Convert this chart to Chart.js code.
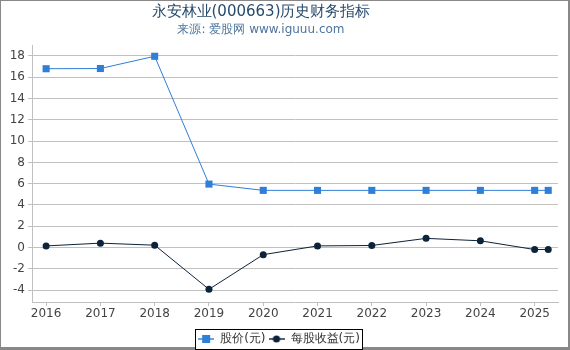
<!DOCTYPE html>
<html>
<head>
<meta charset="utf-8">
<title>永安林业(000663)历史财务指标</title>
<script src="https://cdn.jsdelivr.net/npm/chart.js"></script>
<style>
  body { margin: 0; background: #fff; }
  #wrap { position: relative; width: 570px; height: 350px; font-family: "DejaVu Sans", sans-serif; }
  .t { position: absolute; left: 0; width: 522px; text-align: center; white-space: nowrap; }
  #title { top: 2px; font-size: 15px; color: #274b6d; }
  #sub { top: 21px; font-size: 12px; color: #4d759e; }
</style>
</head>
<body>
<div id="wrap">
  <canvas id="chart" width="570" height="350"></canvas>
  <div id="title" class="t">永安林业(000663)历史财务指标</div>
  <div id="sub" class="t">来源: 爱股网 www.iguuu.com</div>
</div>
<script>
  // report dates (last one is the Q1 report)
  const years = [2016, 2017, 2018, 2019, 2020, 2021, 2022, 2023, 2024, 2025, 2025.25];
  const price = [16.8, 16.82, 17.97, 5.96, 5.37, 5.37, 5.37, 5.37, 5.37, 5.37, 5.37];
  const eps = [0.15, 0.41, 0.22, -3.93, -0.67, 0.15, 0.19, 0.86, 0.63, -0.19, -0.19];
  const yearTicks = [2016, 2017, 2018, 2019, 2020, 2021, 2022, 2023, 2024, 2025];
  const yTicks = [-4, -2, 0, 2, 4, 6, 8, 10, 12, 14, 16, 18];
  const names = ["股价(元)", "每股收益(元)"];

  const PRICE_COLOR = "#2f7ed8";
  const EPS_COLOR = "#0d233a";

  function legendIcon(color, style) {
    const c = document.createElement("canvas");
    c.width = 16; c.height = 10;
    const g = c.getContext("2d");
    g.strokeStyle = color;
    g.globalAlpha = 0.7;
    g.lineWidth = 2;
    g.beginPath(); g.moveTo(0, 5); g.lineTo(16, 5); g.stroke();
    g.globalAlpha = 1;
    g.fillStyle = color;
    if (style === "rect") g.fillRect(4, 1, 8, 8);
    else { g.beginPath(); g.arc(8, 5, 3.6, 0, Math.PI * 2); g.fill(); }
    return c;
  }
  const icons = [legendIcon(PRICE_COLOR, "rect"), legendIcon(EPS_COLOR, "circle")];

  const frameAndBox = {
    id: "frameAndBox",
    beforeDraw(chart) {
      const ctx = chart.ctx;
      ctx.save();
      ctx.fillStyle = "#fff";
      ctx.fillRect(0, 0, 570, 350);
      ctx.fillStyle = "#888";
      ctx.fillRect(0, 0, 570, 1);
      ctx.fillRect(0, 0, 1, 350);
      ctx.fillRect(568, 0, 2, 350);
      ctx.fillRect(0, 347, 570, 3);
      const b = legendBox(chart);
      ctx.fillStyle = "#fff";
      ctx.fillRect(b.x, b.y, b.w, b.h);
      ctx.restore();
    },
    afterDraw(chart) {
      const ctx = chart.ctx;
      const b = legendBox(chart);
      ctx.save();
      ctx.strokeStyle = "#000";
      ctx.lineWidth = 1;
      ctx.strokeRect(b.x + 0.5, b.y + 0.5, b.w - 1, b.h - 1);
      ctx.restore();
    }
  };
  function legendBox(chart) {
    const hb = chart.legend.legendHitBoxes;
    const left = Math.min(...hb.map(h => h.left)) - 3;
    const right = Math.max(...hb.map(h => h.left + h.width)) + 3;
    const top = Math.round(hb[0].top) - 4;
    return { x: Math.round(left), y: top, w: Math.round(right - left), h: 350 - top };
  }

  new Chart(document.getElementById("chart"), {
    type: "line",
    data: {
      datasets: [
        {
          label: names[0],
          data: years.map((x, i) => ({ x: x, y: price[i] })),
          borderColor: PRICE_COLOR,
          backgroundColor: PRICE_COLOR,
          borderWidth: 1,
          pointStyle: "rect",
          pointRadius: 5,
          pointBorderWidth: 0
        },
        {
          label: names[1],
          data: years.map((x, i) => ({ x: x, y: eps[i] })),
          borderColor: EPS_COLOR,
          backgroundColor: EPS_COLOR,
          borderWidth: 1,
          pointStyle: "circle",
          pointRadius: 3.5,
          pointBorderWidth: 0
        }
      ]
    },
    options: {
      responsive: false,
      animation: false,
      layout: { padding: { top: 45, right: 12, left: 0, bottom: 0 } },
      plugins: {
        title: { display: false },
        tooltip: { enabled: false },
        legend: {
          position: "bottom",
          maxHeight: 20,
          labels: {
            font: { family: "DejaVu Sans", size: 12 },
            color: "#333",
            usePointStyle: true,
            pointStyleWidth: 16,
            padding: 3,
            generateLabels: chart => chart.data.datasets.map((ds, i) => ({
              text: ds.label,
              pointStyle: icons[i],
              fillStyle: ds.borderColor,
              strokeStyle: ds.borderColor,
              lineWidth: 0,
              datasetIndex: i,
              fontColor: "#333"
            }))
          }
        }
      },
      scales: {
        x: {
          type: "linear",
          min: 2015.74,
          max: 2025.43,
          afterBuildTicks: s => { s.ticks = yearTicks.map(v => ({ value: v })); },
          afterFit: s => { s.height = 28; },
          grid: { drawOnChartArea: false, drawTicks: true, tickLength: 4, color: "#c0c0c0" },
          border: { color: "#c0c0c0" },
          ticks: {
            color: "#444",
            font: { family: "DejaVu Sans", size: 12 },
            padding: 1,
            maxRotation: 0,
            callback: v => String(v)
          }
        },
        y: {
          min: -5.12,
          max: 19.03,
          afterBuildTicks: s => { s.ticks = yTicks.map(v => ({ value: v })); },
          afterFit: s => { s.width = 32; },
          grid: { color: "#c0c0c0", tickLength: 4 },
          border: { color: "#c0c0c0" },
          ticks: {
            color: "#444",
            font: { family: "DejaVu Sans", size: 12 },
            padding: 3
          }
        }
      }
    },
    plugins: [frameAndBox]
  });
</script>
</body>
</html>
